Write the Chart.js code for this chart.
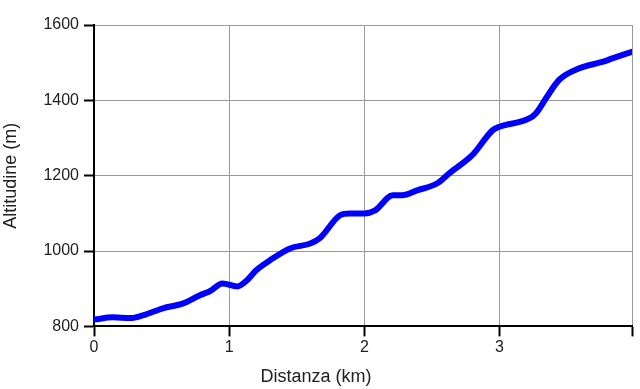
<!DOCTYPE html>
<html>
<head>
<meta charset="utf-8">
<script src="https://cdn.jsdelivr.net/npm/chart.js@4"></script>
<style>
  html, body { margin: 0; padding: 0; background: #fff; }
  #wrap { width: 640px; height: 389px; }
</style>
</head>
<body>
<div id="wrap"><canvas id="chart"></canvas></div>
<script>
// profilo altimetrico: distanza (km) e altitudine (m)
const distanza = [0, 0.14, 0.27, 0.36, 0.51, 0.66, 0.78, 0.86, 0.95, 1.06, 1.13, 1.20, 1.30, 1.45,
  1.60, 1.67, 1.82, 1.89, 2.00, 2.08, 2.21, 2.28, 2.39, 2.54, 2.63, 2.80, 2.95, 3.00, 3.22, 3.27,
  3.35, 3.44, 3.59, 3.76, 3.84, 3.98];
const altitudine = [818, 824, 822, 829, 848, 861, 882, 894, 914, 906, 922, 949, 975, 1007,
  1020, 1034, 1095, 1100, 1100, 1108, 1148, 1148, 1161, 1180, 1207, 1255, 1321, 1330, 1352, 1366,
  1409, 1454, 1485, 1502, 1512, 1529];
const xTicks = [0, 1, 2, 3];
const yTicks = [800, 1000, 1200, 1400, 1600];

Chart.defaults.font.family = "'Liberation Sans', Arial, sans-serif";
Chart.defaults.color = "#222";

const punti = distanza.map((d, i) => ({x: d, y: altitudine[i]}));

const config = {
  type: "line",
  data: {
    datasets: [{
      data: punti,
      borderColor: "#0000ff",
      borderWidth: 6,
      borderCapStyle: "round",
      borderJoinStyle: "round",
      pointRadius: 0,
      tension: 0.4,
      cubicInterpolationMode: "monotone",
      fill: false
    }]
  },
  options: {
    responsive: true,
    maintainAspectRatio: false,
    animation: false,
    layout: { padding: { top: 25, right: 8, left: 0, bottom: 0 } },
    plugins: {
      legend: { display: false },
      tooltip: { enabled: false },
      // titolo asse x centrato sulla tela, come nell'originale
      title: {
        display: true,
        position: "bottom",
        text: "Distanza (km)",
        color: "#222",
        font: { size: 18, weight: "normal" },
        padding: { top: 0, bottom: 1 }
      }
    },
    scales: {
      x: {
        type: "linear",
        min: 0,
        max: 3.98,
        afterBuildTicks: s => { s.ticks = xTicks.map(v => ({value: v})).concat([{value: 3.98}]); },
        afterFit: s => { s.height = 40; },
        ticks: {
          font: { size: 16 },
          padding: 2,
          maxRotation: 0,
          callback: v => (xTicks.includes(v) ? String(v) : "")
        },
        grid: { color: "#999", lineWidth: 1, tickLength: 10, tickColor: "#000", tickWidth: 2 },
        border: { color: "#000", width: 2 }
      },
      y: {
        min: 800,
        max: 1600,
        afterBuildTicks: s => { s.ticks = yTicks.map(v => ({value: v})); },
        afterFit: s => { s.width = 94; },
        ticks: { font: { size: 16 }, padding: 5, callback: v => String(v) },
        grid: { color: "#999", lineWidth: 1, tickLength: 10, tickColor: "#000", tickWidth: 2 },
        border: { color: "#000", width: 2 },
        title: { display: true, text: "Altitudine (m)", font: { size: 18 }, padding: { top: 0, bottom: 4 } }
      }
    }
  }
};

const myChart = new Chart(document.getElementById("chart"), config);
</script>
</body>
</html>
